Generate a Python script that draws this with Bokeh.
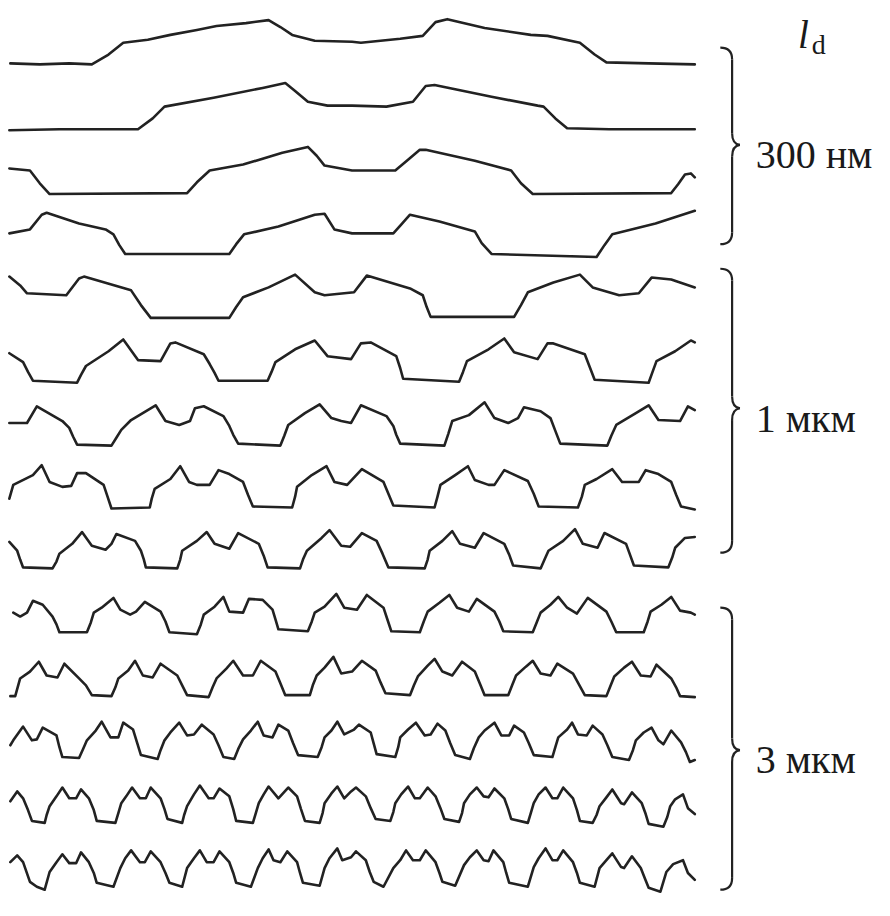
from bokeh.plotting import figure
from bokeh.models import Range1d
from bokeh.core.properties import value
from bokeh.embed import file_html
from bokeh.resources import INLINE

# ---- profile data: position along scan (x) and relief height (h) for each trace ----
x1 = [10, 40, 70, 93, 110, 125, 150, 173, 200, 220, 250, 273, 285, 297, 320, 358, 367, 407, 430, 443, 455, 493, 540, 557, 590, 605, 617, 660, 707]
h1 = [1, 0, 1, 0, 10, 22, 25, 30, 35, 39, 42, 45, 38, 30, 24, 23, 22, 26, 29, 43, 46, 37, 30, 29, 22, 10, 2, 1, 0]

x2 = [9, 60, 100, 140, 155, 167, 217, 267, 290, 300, 313, 333, 358, 393, 420, 433, 442, 500, 547, 553, 565, 577, 620, 707]
h2 = [-1, 0, 0, 0, 11, 23, 32, 42, 47, 39, 28, 24, 24, 23, 28, 44, 45, 33, 24, 23, 11, 1, 0, 0]

x3 = [9, 30, 40, 50, 190, 200, 213, 247, 287, 313, 322, 330, 358, 402, 415, 427, 433, 483, 520, 530, 542, 683, 690, 697, 703, 707]
h3 = [25, 23, 10, -1, 0, 11, 23, 29, 41, 47, 38, 28, 23, 23, 34, 44, 44, 33, 23, 10, -1, 0, 9, 19, 20, 16]

x4 = [9, 30, 42, 47, 80, 107, 115, 121, 127, 233, 240, 248, 283, 320, 330, 340, 358, 400, 408, 417, 447, 483, 490, 500, 607, 615, 623, 667, 707]
h4 = [21, 25, 40, 42, 31, 25, 20, 9, 0, 0, 10, 20, 28, 40, 41, 25, 21, 21, 30, 40, 33, 23, 11, 0, -3, 9, 20, 31, 44]

x5 = [9, 20, 27, 67, 80, 85, 133, 143, 153, 233, 240, 247, 273, 300, 320, 330, 360, 373, 417, 430, 434, 438, 523, 530, 537, 563, 590, 603, 630, 650, 663, 683, 707]
h5 = [42, 33, 25, 23, 40, 42, 28, 13, 0, 0, 11, 21, 31, 44, 26, 23, 26, 43, 30, 23, 11, 1, 1, 13, 26, 36, 44, 31, 23, 25, 41, 39, 31]

x6 = [9, 23, 28, 33, 78, 82, 87, 110, 125, 140, 163, 173, 178, 207, 213, 218, 222, 272, 276, 280, 300, 320, 333, 357, 367, 377, 403, 407, 410, 467, 471, 475, 497, 513, 523, 547, 557, 563, 595, 600, 605, 660, 664, 668, 687, 703, 707]
h6 = [29, 20, 10, 1, -1, 7, 16, 31, 43, 22, 21, 39, 40, 28, 18, 9, 1, 1, 10, 20, 33, 42, 26, 23, 39, 40, 26, 14, 3, 0, 10, 21, 33, 44, 30, 23, 39, 39, 28, 15, 2, -1, 10, 21, 31, 42, 40]

x7 = [9, 27, 37, 63, 70, 74, 78, 113, 118, 123, 133, 158, 168, 182, 193, 198, 207, 227, 233, 237, 242, 285, 289, 293, 310, 325, 337, 347, 357, 367, 393, 400, 403, 407, 452, 456, 460, 477, 493, 503, 517, 527, 533, 550, 560, 565, 570, 618, 622, 627, 647, 660, 670, 692, 700, 707]
h7 = [23, 23, 40, 25, 18, 9, 1, 0, 8, 16, 26, 41, 25, 21, 25, 38, 40, 30, 20, 11, 2, 0, 10, 21, 33, 42, 28, 25, 23, 41, 30, 20, 11, 2, 0, 12, 25, 31, 44, 28, 23, 28, 39, 35, 28, 15, 2, 0, 10, 21, 33, 41, 26, 25, 40, 36]

x8 = [9, 13, 33, 42, 50, 63, 72, 78, 87, 105, 109, 113, 152, 154, 157, 173, 183, 192, 200, 213, 222, 233, 247, 252, 257, 297, 300, 302, 317, 332, 340, 353, 368, 390, 395, 400, 442, 445, 448, 463, 476, 483, 497, 503, 513, 537, 543, 548, 588, 592, 595, 607, 623, 633, 650, 657, 670, 683, 688, 693, 707]
h8 = [9, 23, 33, 43, 26, 21, 22, 35, 35, 23, 11, -1, 0, 9, 19, 29, 42, 26, 23, 23, 38, 34, 26, 13, 1, 0, 11, 21, 33, 42, 26, 23, 39, 26, 14, 2, 0, 11, 23, 33, 42, 28, 23, 23, 38, 27, 14, 1, 0, 11, 23, 29, 39, 26, 26, 38, 34, 26, 13, 1, -2]

x9 = [9, 17, 20, 23, 53, 57, 60, 73, 83, 93, 107, 113, 118, 137, 143, 146, 148, 180, 183, 185, 200, 210, 218, 233, 242, 263, 268, 272, 305, 308, 312, 327, 335, 347, 356, 368, 383, 389, 395, 432, 435, 437, 450, 460, 468, 483, 492, 513, 518, 522, 550, 554, 558, 573, 585, 593, 608, 615, 637, 641, 645, 680, 684, 687, 697, 707]
h9 = [27, 18, 9, 1, 0, 7, 15, 25, 37, 23, 19, 25, 35, 28, 18, 9, 1, 0, 9, 18, 28, 37, 25, 20, 36, 25, 13, 1, 0, 9, 18, 31, 39, 23, 22, 36, 28, 15, 1, 0, 9, 18, 28, 38, 25, 21, 36, 25, 14, 3, 0, 9, 18, 28, 40, 25, 21, 36, 25, 14, 3, 1, 11, 21, 31, 32]

x10 = [13, 20, 27, 33, 43, 53, 57, 60, 88, 92, 95, 103, 115, 122, 132, 138, 147, 163, 168, 172, 200, 204, 207, 218, 227, 233, 247, 253, 267, 277, 280, 283, 313, 317, 320, 330, 342, 350, 363, 373, 390, 394, 398, 427, 431, 435, 447, 457, 465, 477, 485, 503, 508, 512, 542, 546, 550, 560, 568, 577, 587, 598, 617, 622, 627, 655, 659, 662, 673, 683, 692, 703, 707]
h10 = [20, 16, 20, 32, 28, 16, 8, 0, 0, 10, 20, 25, 35, 23, 18, 21, 31, 21, 11, 0, -2, 8, 18, 26, 36, 21, 20, 34, 33, 23, 13, 3, 1, 11, 20, 26, 39, 25, 23, 38, 25, 13, 1, 0, 11, 21, 30, 38, 25, 21, 34, 21, 11, 1, 0, 10, 20, 28, 36, 25, 19, 35, 21, 11, 0, 0, 11, 21, 28, 36, 22, 20, 18]

x11 = [10, 15, 20, 30, 39, 47, 58, 65, 80, 87, 93, 113, 117, 120, 130, 137, 145, 155, 163, 180, 185, 190, 212, 216, 220, 230, 237, 247, 257, 265, 280, 285, 290, 315, 318, 322, 330, 339, 347, 358, 368, 382, 387, 392, 417, 421, 425, 435, 442, 450, 460, 470, 483, 488, 493, 517, 521, 525, 535, 542, 550, 560, 567, 583, 589, 595, 617, 621, 625, 635, 643, 652, 662, 668, 683, 688, 692, 707]
h11 = [0, 0, 18, 25, 35, 21, 19, 33, 18, 11, 1, 0, 9, 18, 26, 36, 21, 19, 33, 21, 11, 1, -1, 9, 18, 28, 36, 21, 21, 36, 25, 13, 1, 1, 11, 21, 29, 40, 23, 25, 36, 26, 14, 3, 1, 11, 20, 31, 38, 25, 21, 35, 25, 13, 1, 1, 11, 21, 30, 36, 23, 21, 33, 23, 12, 1, 0, 10, 20, 29, 35, 21, 20, 32, 18, 9, 0, -1]

x12 = [10, 13, 23, 32, 37, 43, 57, 60, 63, 80, 84, 88, 97, 103, 112, 120, 125, 135, 139, 143, 160, 163, 167, 173, 182, 190, 197, 205, 217, 222, 227, 238, 242, 247, 255, 262, 268, 277, 283, 293, 298, 303, 323, 327, 330, 337, 343, 350, 360, 365, 377, 380, 383, 402, 405, 407, 415, 423, 432, 438, 445, 453, 458, 463, 478, 482, 487, 493, 503, 510, 518, 523, 533, 538, 543, 562, 565, 568, 577, 582, 588, 597, 603, 613, 618, 623, 640, 644, 647, 655, 663, 670, 675, 683, 693, 698, 702, 707]
h12 = [12, 17, 31, 17, 18, 30, 22, 10, 0, -1, 8, 17, 27, 36, 20, 20, 35, 28, 15, 2, -2, 7, 17, 25, 35, 22, 23, 33, 23, 12, 0, -2, 8, 18, 27, 36, 22, 20, 33, 27, 14, 2, 0, 10, 20, 27, 36, 23, 28, 33, 25, 14, 3, 0, 10, 20, 28, 35, 22, 23, 34, 27, 14, 2, -2, 9, 20, 27, 35, 22, 22, 32, 25, 14, 2, 0, 10, 20, 28, 35, 23, 22, 32, 23, 12, 0, -3, 7, 17, 25, 30, 17, 13, 27, 15, 5, -5, -3]

x13 = [10, 17, 23, 28, 32, 45, 47, 50, 57, 63, 70, 77, 82, 90, 95, 98, 117, 120, 123, 128, 134, 142, 148, 153, 163, 167, 170, 185, 187, 190, 197, 203, 212, 217, 223, 233, 237, 240, 257, 260, 263, 268, 273, 283, 293, 302, 306, 310, 325, 328, 330, 337, 343, 350, 357, 362, 372, 377, 382, 397, 400, 402, 408, 415, 422, 427, 435, 443, 448, 452, 467, 470, 472, 478, 485, 492, 497, 503, 513, 517, 520, 537, 540, 543, 548, 555, 562, 567, 573, 583, 587, 590, 603, 607, 610, 617, 623, 632, 635, 643, 653, 657, 660, 675, 679, 682, 687, 695, 700, 707]
h13 = [21, 31, 24, 12, 1, -1, 7, 16, 26, 35, 24, 24, 33, 24, 12, 1, -1, 9, 19, 26, 35, 24, 24, 35, 24, 13, 3, -1, 7, 16, 28, 37, 24, 24, 34, 26, 13, 1, -1, 9, 19, 28, 36, 24, 35, 26, 13, 1, -1, 9, 19, 29, 36, 24, 31, 35, 26, 14, 3, 1, 10, 19, 28, 36, 24, 24, 35, 26, 14, 3, 0, 9, 19, 28, 35, 26, 25, 34, 24, 13, 3, -1, 9, 19, 28, 35, 24, 24, 35, 24, 12, 1, -1, 7, 16, 25, 33, 19, 18, 30, 19, 8, -2, -5, 5, 16, 23, 28, 14, 8]

x14 = [10, 17, 23, 30, 37, 45, 50, 57, 63, 70, 77, 82, 90, 95, 98, 115, 122, 127, 133, 142, 147, 153, 163, 168, 172, 185, 190, 197, 203, 210, 217, 223, 233, 237, 240, 255, 262, 267, 273, 278, 285, 292, 302, 305, 308, 325, 330, 335, 343, 348, 357, 362, 372, 376, 380, 390, 400, 407, 413, 420, 427, 433, 443, 447, 450, 463, 472, 478, 485, 492, 497, 502, 512, 515, 518, 537, 543, 548, 555, 562, 567, 573, 583, 587, 590, 605, 610, 617, 623, 632, 635, 643, 652, 656, 660, 672, 678, 685, 695, 700, 707]
h14 = [25, 32, 25, 5, 0, -3, 15, 25, 33, 24, 24, 35, 25, 14, 4, 0, 19, 29, 37, 25, 25, 36, 25, 14, 4, 0, 19, 29, 37, 25, 25, 36, 25, 14, 4, 0, 19, 29, 38, 27, 25, 36, 25, 14, 4, 1, 19, 29, 39, 27, 30, 36, 27, 15, 5, 0, 19, 27, 37, 27, 27, 37, 25, 14, 5, 1, 22, 30, 37, 27, 26, 37, 25, 14, 4, 0, 20, 29, 39, 27, 27, 37, 25, 14, 4, 0, 19, 27, 34, 20, 19, 31, 19, 9, -1, -5, 15, 23, 27, 14, 7]

traces_x = [x1, x2, x3, x4, x5, x6, x7, x8, x9, x10, x11, x12, x13, x14]
traces_h = [h1, h2, h3, h4, h5, h6, h7, h8, h9, h10, h11, h12, h13, h14]

# group labels (period l_d)
group_labels = ["300 нм", "1 мкм", "3 мкм"]
header_main = "l"
header_sub = "d"

# ---- layout ----
row_base = [65, 131, 196, 258, 323, 388, 453, 516, 578, 643, 708, 770, 836, 902]
brace_spans = [(48, 248, 147), (273, 562, 415), (618, 905, 763)]
INK = "#222222"
TEXT_INK = "#1a1a1a"
SERIF = value("Liberation Serif")

p = figure(width=874, height=900, output_backend="svg", toolbar_location=None,
           x_range=Range1d(0, 890), y_range=Range1d(916, 0),
           min_border=0, min_border_left=0, min_border_right=0,
           min_border_top=0, min_border_bottom=0)
p.axis.visible = False
p.grid.visible = False
p.outline_line_color = None
p.background_fill_color = "white"
p.border_fill_color = "white"

for xs, hs, base in zip(traces_x, traces_h, row_base):
    ys = [base - h for h in hs]
    p.line(xs, ys, line_color=INK, line_width=2.6, line_join="round", line_cap="round")

# braces
xl, xh, xt = 745, 733, 753
for (yt, yb, ym) in brace_spans:
    p.quadratic(x0=[xh], y0=[yt], x1=[xl], y1=[yt + 12], cx=[xl], cy=[yt],
                line_color=INK, line_width=2.2)
    p.segment(x0=[xl], y0=[yt + 12], x1=[xl], y1=[ym - 12], line_color=INK, line_width=2.2)
    p.quadratic(x0=[xl], y0=[ym - 12], x1=[xt], y1=[ym], cx=[xl], cy=[ym - 1],
                line_color=INK, line_width=2.2)
    p.quadratic(x0=[xt], y0=[ym], x1=[xl], y1=[ym + 12], cx=[xl], cy=[ym + 1],
                line_color=INK, line_width=2.2)
    p.segment(x0=[xl], y0=[ym + 12], x1=[xl], y1=[yb - 12], line_color=INK, line_width=2.2)
    p.quadratic(x0=[xl], y0=[yb - 12], x1=[xh], y1=[yb], cx=[xl], cy=[yb],
                line_color=INK, line_width=2.2)

# group labels
label_x = [769, 769, 769]
label_y = [s[2] + 10 for s in brace_spans]
p.text(x=label_x, y=label_y, text=group_labels, text_font=SERIF, text_font_size="40px",
       text_color=TEXT_INK, text_baseline="alphabetic", text_align="left")

# header l_d
p.text(x=[812], y=[35], text=[header_main], text_font=SERIF, text_font_style="italic",
       text_font_size="39px", text_color=TEXT_INK, text_baseline="alphabetic")
p.text(x=[826], y=[45], text=[header_sub], text_font=SERIF,
       text_font_size="28px", text_color=TEXT_INK, text_baseline="alphabetic")

open("out.html", "w").write(file_html(p, INLINE))
